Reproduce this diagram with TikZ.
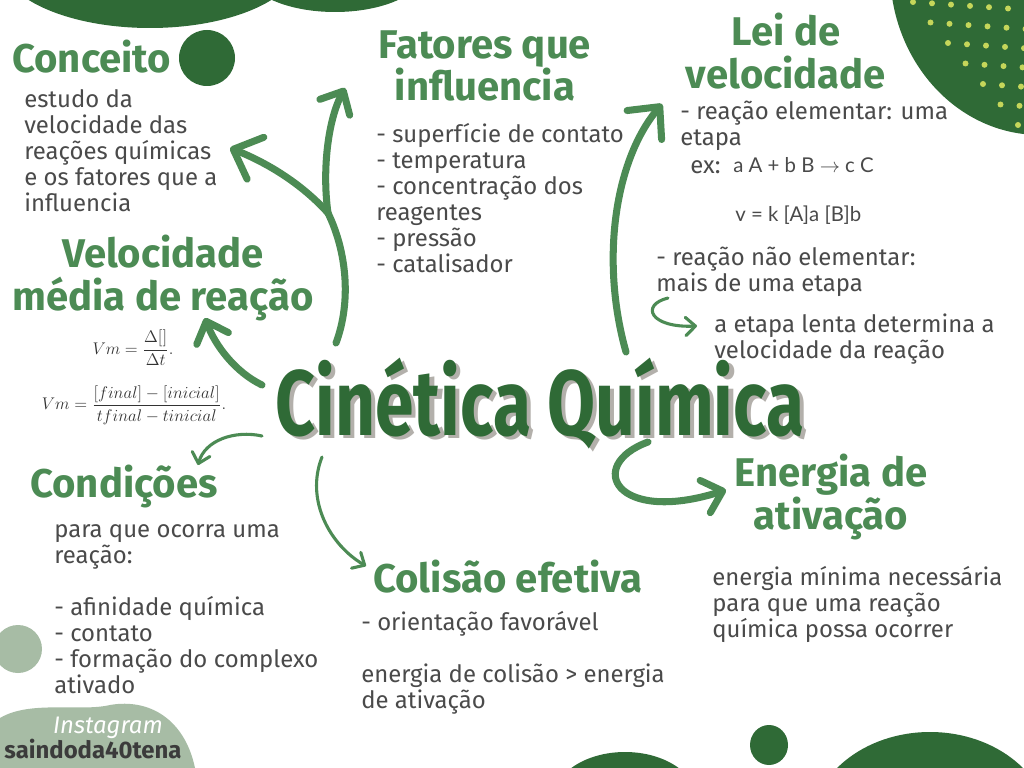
\documentclass[tikz,border=0pt]{standalone}
\usepackage{fontspec}
\setmainfont{Fira Sans}
\newfontfamily\formfont{Lato}
\usetikzlibrary{arrows.meta}
\definecolor{leaf}{HTML}{4C8B54}
\definecolor{deep}{HTML}{2F6A36}
\definecolor{ink}{HTML}{4A4A4A}
\definecolor{sage}{HTML}{A7BCA5}
\definecolor{speck}{HTML}{C5D65A}
\definecolor{shade}{HTML}{B3B0AB}
\newcommand{\shadowed}[1]{\makebox[0pt][l]{\hspace{4pt}\raisebox{-2pt}{\color{shade}#1}}{\color{deep}#1}}
\tikzset{
  head/.style={text=leaf, font=\fontsize{28.5}{30}\selectfont\bfseries, align=center, inner sep=0pt},
  body/.style={text=ink, font=\fontsize{17}{18.5}\selectfont, align=left, inner sep=0pt, anchor=north west},
  form/.style={text=ink, font=\fontsize{14.5}{16}\selectfont\formfont, inner sep=0pt, anchor=west},
  mathtxt/.style={text=black!80, font=\fontsize{13}{15}\selectfont, inner sep=0pt},
  titletxt/.style={font=\fontsize{66}{70}\selectfont\bfseries, inner sep=0pt, xscale=0.75},
  bigarrow/.style={draw=leaf, line width=5pt, line cap=round, -{Straight Barb[length=13pt,width=24pt,round]}},
  thinarrow/.style={draw=leaf, line width=2.2pt, line cap=round, -{Straight Barb[length=7pt,width=13pt,round]}}
}

\begin{document}
\begin{tikzpicture}[x=0.025cm, y=-0.025cm]
\fill[white] (0,0) rectangle (1024,768);
\useasboundingbox (0,0) rectangle (1024,768);

% background shapes
\begin{scope}
  \clip (0,0) rectangle (1024,768);
  \fill[deep] (150,-40) ellipse [x radius=150, y radius=68];
  \fill[deep] (335,-30) ellipse [x radius=90, y radius=42];
  \fill[deep] (1040,-30) ellipse [x radius=150, y radius=165];
  \foreach \r in {0,...,6}
    \foreach \c in {0,...,6}
      \fill[speck] ({913+17.5*\r+19*\c},{2+20.5*\r+1.3*\c}) circle [radius=3];
  \fill[deep] (207,58) circle [radius=28];
  \fill[sage] (18,649) circle [radius=24];
  \fill[sage] (0,718) .. controls (30,700) and (80,712) .. (110,705)
    .. controls (150,698) and (185,720) .. (195,768) -- (0,768) -- cycle;
  \fill[deep] (625,800) ellipse [x radius=72, y radius=48];
  \fill[deep] (769,745) ellipse [x radius=19, y radius=20];
  \fill[deep] (930,830) ellipse [x radius=120, y radius=98];
\end{scope}

% title
\node[titletxt] (title) at (540,405) {\shadowed{Cinética Química}};

% headings
\node[head, anchor=west] (conceito) at (12,57) {Conceito};
\node[head] (fatores) at (485,66) {Fatores que\\influencia};
\node[head] (lei) at (786,51) {Lei de\\velocidade};
\node[head] (velmedia) at (163,278) {Velocidade\\média de reação};
\node[head, anchor=west] (condicoes) at (30,486) {Condições};
\node[head, anchor=west] (colisao) at (373,577) {Colisão efetiva};
\node[head] (energia) at (831,497) {Energia de\\ativação};

% texts
\node[body] (conceito-txt) at (24,89) {estudo da\\velocidade das\\reações químicas\\e os fatores que a\\influencia};
\node[body] (fatores-txt) at (376,123) {- superfície de contato\\- temperatura\\- concentração dos\\reagentes\\- pressão\\- catalisador};
\node[body] (lei-txt) at (680,101) {- reação elementar: uma\\etapa};
\node[body, anchor=west] (lei-ex) at (690,167) {ex:};
\node[form] (lei-eq) at (733,165) {a A + b B $\to$ c C};
\node[form] (lei-rate) at (735,215) {v = k [A]a [B]b};
\node[body] (lei-txt2) at (656,247) {- reação não elementar:\\mais de uma etapa};
\node[body] (lei-txt3) at (714,314) {a etapa lenta determina a\\velocidade da reação};
\node[mathtxt] (vm-one) at (133,348) {$\displaystyle Vm=\frac{\Delta[]}{\Delta t}.$};
\node[mathtxt] (vm-two) at (134,405) {$\displaystyle Vm=\frac{[final]-[inicial]}{tfinal-tinicial}.$};
\node[body] (condicoes-txt) at (54,524) {para que ocorra uma\\reação:\\[18.5pt]- afinidade química\\- contato\\- formação do complexo\\ativado};
\node[body] (colisao-txt) at (361,611) {- orientação favorável\\[18.5pt]energia de colisão > energia\\de ativação};
\node[body] (energia-txt) at (712,566) {energia mínima necessária\\para que uma reação\\química possa ocorrer};

% watermark
\node[font=\fontsize{17}{18}\selectfont\itshape, text=white, inner sep=0pt] (insta) at (108,728) {Instagram};
\node[font=\fontsize{17}{18}\selectfont\bfseries, text=ink!80!black, inner sep=0pt] (handle) at (93,749) {saindoda40tena};

% arrows
\coordinate (fat-root) at (336,343);
\coordinate (fat-fork) at (328,213);
\coordinate (fat-tip) at (345,88);
\coordinate (con-tip) at (230,148);
\coordinate (vel-root) at (262,385);
\coordinate (vel-tip) at (205,318);
\coordinate (lei-root) at (626,352);
\coordinate (lei-tip) at (662,104);
\coordinate (ene-root) at (648,442);
\coordinate (ene-tip) at (726,490);
\coordinate (cond-root) at (262,436);
\coordinate (cond-tip) at (198,465);
\coordinate (col-root) at (322,457);
\coordinate (col-tip) at (366,566);
\coordinate (step-root) at (668,298);
\coordinate (step-tip) at (697,326);

\draw[bigarrow, -] (fat-root) .. controls (352,300) and (346,250) .. (fat-fork);
\draw[bigarrow] (fat-fork) .. controls (322,170) and (328,120) .. (fat-tip);
\draw[bigarrow, -{Straight Barb[length=17pt,width=32pt,round]}] (fat-fork) .. controls (300,182) and (265,162) .. (con-tip);
\draw[bigarrow] (vel-root) .. controls (235,372) and (215,345) .. (vel-tip);
\draw[bigarrow, -{Straight Barb[length=17pt,width=32pt,round]}] (lei-root) .. controls (600,260) and (615,160) .. (lei-tip);
\draw[bigarrow] (ene-root) .. controls (585,465) and (615,525) .. (ene-tip);
\draw[thinarrow] (cond-root) .. controls (235,430) and (205,440) .. (cond-tip);
\draw[thinarrow] (col-root) .. controls (305,500) and (330,545) .. (col-tip);
\draw[thinarrow] (step-root) .. controls (640,305) and (650,328) .. (step-tip);
\end{tikzpicture}
\end{document}
